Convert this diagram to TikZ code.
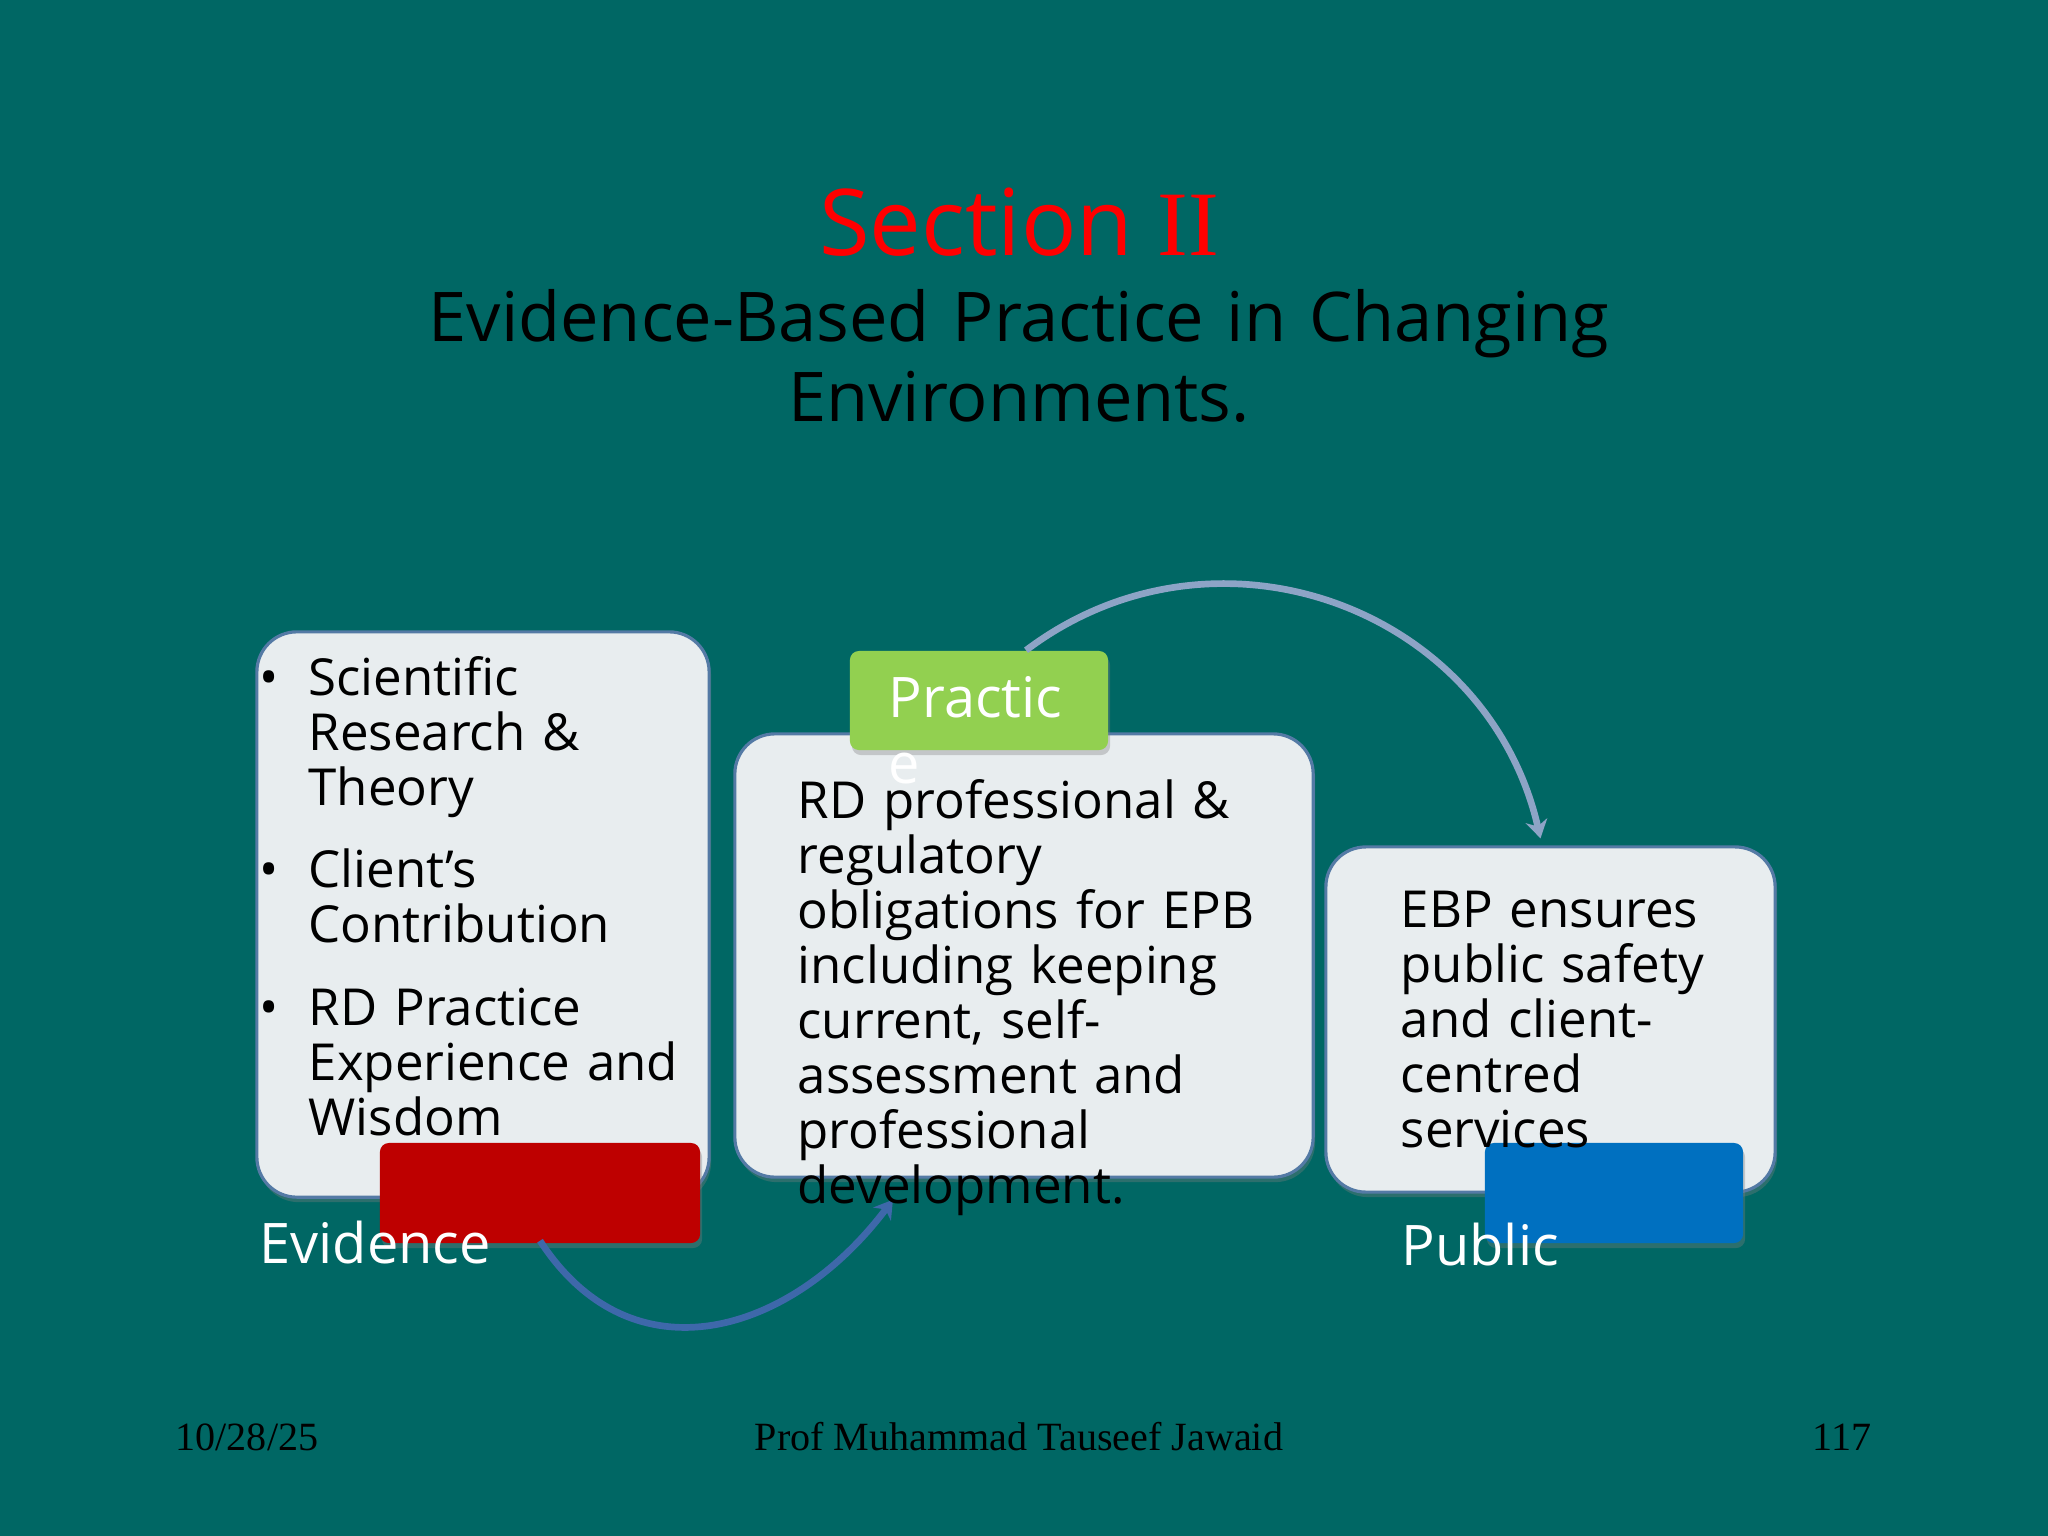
\documentclass[tikz,border=0pt]{standalone}
\usepackage{fontspec}
\setmainfont{Open Sans}
\newfontfamily\footfont{Liberation Serif}
\usetikzlibrary{arrows.meta,positioning,shadows}

\definecolor{slideteal}{RGB}{0,103,100}
\definecolor{boxfill}{RGB}{232,237,239}
\definecolor{boxline}{RGB}{84,122,165}
\definecolor{titlered}{RGB}{255,0,0}
\definecolor{tagred}{RGB}{190,0,0}
\definecolor{taggreen}{RGB}{146,208,80}
\definecolor{tagblue}{RGB}{0,112,192}
\definecolor{arcpale}{RGB}{141,164,198}
\definecolor{arcdeep}{RGB}{62,104,170}

\newcommand\evbullet{\leavevmode\llap{\textbullet\hspace{0.3cm}}}

\begin{document}
\begin{tikzpicture}[x=0.01cm,y=-0.01cm]
\tikzset{infobox/.style ={draw=boxline, line width=0.9pt, fill=boxfill, rounded corners=0.4cm, inner sep=0pt,
    drop shadow={shadow xshift=0.02cm, shadow yshift=-0.05cm, opacity=0.35}},
  tagbox/.style ={rounded corners=0.09cm, inner sep=0pt,
    drop shadow={shadow xshift=0.02cm, shadow yshift=-0.05cm, opacity=0.35}},
  bodytext/.style ={inner sep=0pt, align=left, anchor=base west, font=\fontsize{14.5pt}{15.65pt}\selectfont},
  taglabel/.style ={inner sep=0pt, align=left, anchor=base west, text=white, font=\fontsize{15.9pt}{18.8pt}\selectfont},
  footer/.style ={inner sep=0pt, anchor=base, font=\footfont\fontsize{11.4pt}{13pt}\selectfont},
  loop arc/.style ={line width=1.9pt, -{Stealth[length=0.18cm,width=0.22cm]}}}
\useasboundingbox (0,0) rectangle (2048,1536);
\fill[slideteal] (0,0) rectangle (2048,1536);

% title
\node[anchor=base, inner sep=0pt, text=titlered, font=\fontsize{26.2pt}{30pt}\selectfont] (sectitle) at (1019,255) {Section {\footfont II}};
\node[anchor=base, inner sep=0pt, text width=13cm, align=center, font=\fontsize{19.5pt}{23pt}\selectfont] (subtitle) at (1019,341)
  {Evidence-Based Practice in Changing\\Environments.};

% boxes
\node[infobox, minimum width=4.52cm, minimum height=5.65cm] (evbox) at (483,914.5) {};
\node[infobox, minimum width=5.78cm, minimum height=4.43cm] (prbox) at (1024,955.5) {};
\node[infobox, minimum width=4.49cm, minimum height=3.45cm] (pubbox) at (1550.5,1019.5) {};

\node[tagbox, fill=taggreen, minimum width=2.58cm, minimum height=0.99cm] (prtag) at (979,700.5) {};
\node[tagbox, fill=tagred, minimum width=3.2cm, minimum height=1cm] (evtag) at (540,1193) {};
\node[tagbox, fill=tagblue, minimum width=2.58cm, minimum height=1cm] (pubtag) at (1614,1193) {};

% arcs
\draw[loop arc, arcpale] ([xshift=0.47cm]prtag.north) to[out=37, in=103, looseness=1.11]
  ([xshift=-0.1cm, yshift=0.07cm]pubbox.north);
\draw[loop arc, arcdeep] ([yshift=0.03cm]evtag.south) to[out=-57, in=233, looseness=1.22]
  ([xshift=-1.31cm, yshift=-0.21cm]prbox.south);

% texts
\node[bodytext, text width=4cm] (evtext) at (308,695)
  {\evbullet Scientific\\Research \&\\Theory\par\vspace{7.9pt}
   \evbullet Client’s\\Contribution\par\vspace{7.9pt}
   \evbullet RD Practice\\Experience and\\Wisdom};
\node[bodytext, text width=5cm] (prtext) at (797,818)
  {RD professional \&\\regulatory\\obligations for EPB\\including keeping\\current, self-\\assessment and\\professional\\development.};
\node[bodytext, text width=3.6cm] (pubtext) at (1400,927)
  {EBP ensures\\public safety\\and client-\\centred\\services};

\node[taglabel, text width=2.5cm] (prlabel) at (888,717) {Practic\\e};
\node[taglabel] (evlabel) at (259,1263) {Evidence};
\node[taglabel] (publabel) at (1401,1265) {Public};

% footer
\node[footer, anchor=base west] (fdate) at (175,1450) {10/28/25};
\node[footer] (fname) at (1019,1450) {Prof Muhammad Tauseef Jawaid};
\node[footer, anchor=base east] (fpage) at (1872,1450) {117};
\end{tikzpicture}
\end{document}
